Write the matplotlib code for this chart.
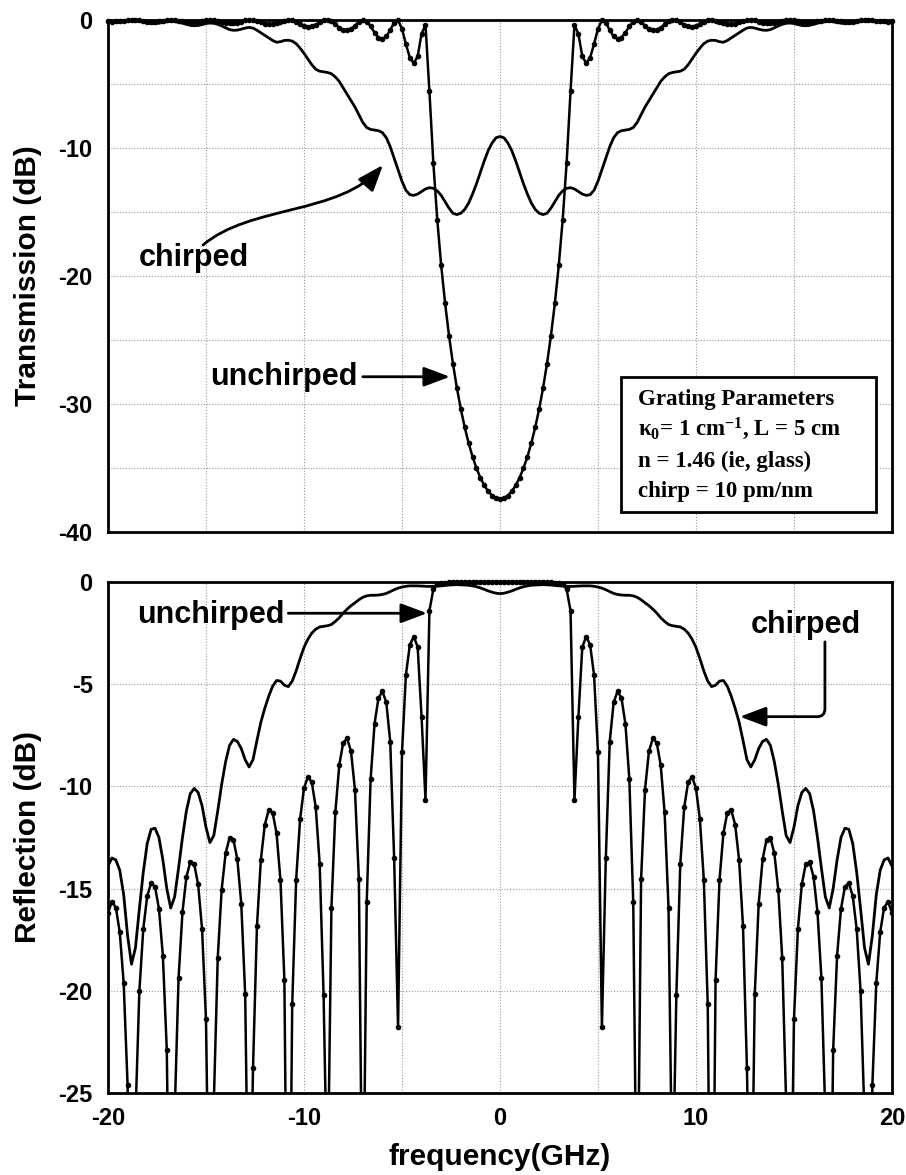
import numpy as np
import matplotlib
matplotlib.use("Agg")
import matplotlib.pyplot as plt
from matplotlib.path import Path
from matplotlib.patches import FancyArrowPatch, Rectangle

# ---------------------------------------------------------------------------
# Spectra sampled every 0.2 GHz.  Both gratings give spectra that are
# symmetric about the Bragg frequency, so only f = 0 ... 20 GHz is listed.
# ---------------------------------------------------------------------------
trans_unchirped_half = [
    -37.41, -37.34, -37.15, -36.82, -36.36, -35.76, -35.01, -34.11, -33.05, -31.81,
    -30.38, -28.73, -26.84, -24.66, -22.13, -19.16, -15.59, -11.17, -5.58, -0.39,
    -1.07, -2.85, -3.38, -2.94, -1.88, -0.69, -0.03, -0.20, -0.79, -1.29,
    -1.50, -1.37, -0.98, -0.50, -0.12, 0.00, -0.15, -0.44, -0.70, -0.82,
    -0.77, -0.59, -0.34, -0.11, 0.00, -0.04, -0.19, -0.36, -0.48, -0.51,
    -0.45, -0.31, -0.15, -0.04, 0.00, -0.05, -0.15, -0.26, -0.34, -0.35,
    -0.29, -0.19, -0.09, -0.02, 0.00, -0.04, -0.12, -0.20, -0.24, -0.25,
    -0.21, -0.14, -0.06, -0.01, 0.00, -0.03, -0.09, -0.15, -0.18, -0.19,
    -0.16, -0.11, -0.05, -0.01, 0.00, -0.02, -0.06, -0.11, -0.14, -0.15,
    -0.13, -0.09, -0.04, -0.01, 0.00, -0.01, -0.05, -0.08, -0.11, -0.12,
    -0.11,
]

trans_chirped_half = [
    -9.10, -9.20, -9.60, -10.20, -11.00, -11.90, -12.80, -13.60, -14.30, -14.80,
    -15.10, -15.20, -15.10, -14.70, -14.20, -13.70, -13.35, -13.15, -13.10, -13.20,
    -13.40, -13.60, -13.70, -13.65, -13.30, -12.60, -11.70, -10.80, -9.90, -9.20,
    -8.80, -8.65, -8.60, -8.55, -8.40, -8.00, -7.40, -6.80, -6.30, -5.80,
    -5.30, -4.80, -4.45, -4.20, -4.10, -4.05, -4.00, -3.85, -3.50, -3.05,
    -2.60, -2.20, -1.85, -1.65, -1.58, -1.60, -1.70, -1.74, -1.60, -1.40,
    -1.20, -1.00, -0.80, -0.63, -0.58, -0.63, -0.72, -0.79, -0.81, -0.75,
    -0.61, -0.47, -0.34, -0.26, -0.24, -0.28, -0.36, -0.43, -0.45, -0.42,
    -0.34, -0.25, -0.18, -0.13, -0.11, -0.14, -0.19, -0.25, -0.28, -0.27,
    -0.23, -0.17, -0.11, -0.07, -0.06, -0.08, -0.13, -0.17, -0.19, -0.20,
    -0.18,
]

refl_unchirped_half = [
    0.00, 0.00, 0.00, 0.00, 0.00, 0.00, 0.00, 0.00, 0.00, 0.00,
    0.00, 0.00, 0.00, -0.02, -0.03, -0.05, -0.12, -0.35, -1.41, -10.67,
    -6.62, -3.18, -2.67, -3.08, -4.55, -8.34, -21.78, -13.52, -7.81, -5.89,
    -5.35, -5.68, -6.94, -9.64, -15.68, -33.80, -14.55, -10.16, -8.29, -7.65,
    -7.87, -8.96, -11.27, -15.94, -30.50, -20.21, -13.78, -11.03, -9.80, -9.53,
    -10.09, -11.61, -14.56, -20.65, -40.40, -19.47, -14.59, -12.29, -11.28, -11.16,
    -11.88, -13.59, -16.84, -23.76, -34.40, -20.18, -15.74, -13.57, -12.61, -12.53,
    -13.28, -15.05, -18.38, -25.44, -35.00, -21.40, -16.99, -14.80, -13.81, -13.70,
    -14.43, -16.15, -19.38, -26.10, -38.00, -22.90, -18.29, -15.99, -14.91, -14.73,
    -15.37, -16.98, -20.03, -26.20, -44.80, -24.63, -19.62, -17.13, -15.93, -15.64,
    -16.18,
]

refl_chirped_half = [
    -0.57, -0.55, -0.50, -0.44, -0.36, -0.29, -0.23, -0.19, -0.16, -0.15,
    -0.14, -0.13, -0.14, -0.15, -0.17, -0.19, -0.20, -0.21, -0.22, -0.21,
    -0.20, -0.19, -0.19, -0.19, -0.21, -0.25, -0.30, -0.38, -0.47, -0.56,
    -0.61, -0.64, -0.65, -0.65, -0.68, -0.75, -0.87, -1.02, -1.16, -1.33,
    -1.52, -1.75, -1.93, -2.08, -2.14, -2.17, -2.20, -2.31, -2.50, -2.80,
    -3.20, -3.75, -4.35, -4.85, -5.12, -5.05, -4.85, -4.82, -5.10, -5.59,
    -6.18, -6.86, -7.75, -8.69, -9.05, -8.70, -8.15, -7.80, -7.70, -8.00,
    -8.80, -9.90, -11.20, -12.40, -12.75, -12.00, -10.95, -10.30, -10.10, -10.35,
    -11.20, -12.50, -14.00, -15.40, -15.95, -15.00, -13.60, -12.50, -12.05, -12.10,
    -12.80, -14.20, -16.00, -17.90, -18.70, -17.30, -15.30, -14.10, -13.60, -13.50,
    -13.90,
]

x_ticks = [-20, -10, 0, 10, 20]
trans_ticks = [0, -10, -20, -30, -40]
refl_ticks = [0, -5, -10, -15, -20, -25]

params_lines = [
    "Grating Parameters",
    r"$\kappa_0$= 1 cm$^{-1}$, L = 5 cm",
    "n = 1.46 (ie, glass)",
    "chirp = 10 pm/nm",
]


def full_spectrum(half):
    half = np.asarray(half, dtype=float)
    return np.concatenate([half[:0:-1], half])


freq = np.round(np.linspace(-20.0, 20.0, 201), 1)
t_un = full_spectrum(trans_unchirped_half)
t_ch = full_spectrum(trans_chirped_half)
r_un = full_spectrum(refl_unchirped_half)
r_ch = full_spectrum(refl_chirped_half)

# ---------------------------------------------------------------------------
plt.rcParams["font.family"] = ["Liberation Sans", "DejaVu Sans"]
plt.rcParams["font.weight"] = "bold"
plt.rcParams["axes.unicode_minus"] = False
plt.rcParams["mathtext.fontset"] = "custom"
plt.rcParams["mathtext.rm"] = "Liberation Serif:bold"
plt.rcParams["mathtext.it"] = "Liberation Serif:bold"
plt.rcParams["mathtext.bf"] = "Liberation Serif:bold"

fig = plt.figure(figsize=(9.06, 11.75), dpi=100)
ax_t = fig.add_axes([0.1192, 0.5472, 0.8653, 0.4358])
ax_r = fig.add_axes([0.1192, 0.0698, 0.8653, 0.4349])

TICK_FS = 17
LABEL_FS = 21.5
NOTE_FS = 22

for ax in (ax_t, ax_r):
    ax.set_xlim(-20, 20)
    ax.set_xticks(x_ticks)
    ax.set_xticks([-15, -5, 5, 15], minor=True)
    ax.set_axisbelow(True)
    ax.grid(True, which="both", linestyle=(0, (1, 1.6)), color="0.6", lw=0.8)
    ax.tick_params(which="both", length=0, labelsize=TICK_FS)
    ax.tick_params(axis="y", pad=11)
    ax.tick_params(axis="x", pad=10)
    for sp in ax.spines.values():
        sp.set_linewidth(2.0)
        sp.set_zorder(6)

# ---------------- transmission ----------------
ax_t.set_ylim(-40, 0)
ax_t.set_yticks(trans_ticks)
ax_t.set_yticks([-5, -15, -25, -35], minor=True)
ax_t.tick_params(axis="x", labelbottom=False)

ax_t.plot(freq, t_ch, color="black", lw=2.0, clip_on=False, zorder=3)
ax_t.plot(freq, t_un, color="black", lw=1.8, marker="o", ms=3.0,
          clip_on=False, zorder=4)

ax_t.text(-15.6, -18.6, "chirped", fontsize=NOTE_FS, fontweight="bold",
          ha="center", va="center")
curve = Path([(-15.15, -17.58), (-12.76, -14.45), (-8.16, -15.23), (-5.97, -11.33)],
             [Path.MOVETO, Path.CURVE4, Path.CURVE4, Path.CURVE4])
ax_t.add_patch(FancyArrowPatch(path=curve,
                               arrowstyle="-|>,head_length=0.8,head_width=0.3",
                               mutation_scale=20, lw=2.0, color="black", zorder=5))

ax_t.text(-11.05, -27.9, "unchirped", fontsize=NOTE_FS, fontweight="bold",
          ha="center", va="center")
ax_t.annotate("", xy=(-2.55, -27.87), xytext=(-7.0, -27.87),
              arrowprops=dict(arrowstyle="-|>,head_length=0.8,head_width=0.3",
                              mutation_scale=20, lw=2.0, color="black",
                              shrinkA=0, shrinkB=0))

# parameter box
ax_t.add_patch(Rectangle((6.17, -38.4), 13.01, 10.5, facecolor="white",
                         edgecolor="black", lw=2.0, zorder=5))
for txt, y in zip(params_lines, [-30.08, -32.42, -34.9, -37.24]):
    ax_t.text(7.02, y, txt, fontsize=16.5, fontweight="bold",
              family="Liberation Serif", ha="left", va="baseline", zorder=6)

# ---------------- reflection ----------------
ax_r.set_ylim(-25, 0)
ax_r.set_yticks(refl_ticks)

clip = Rectangle((0, 0), 1, 1.01, transform=ax_r.transAxes, visible=False)
ax_r.add_patch(clip)
ln1, = ax_r.plot(freq, r_ch, color="black", lw=2.0, zorder=3)
ln2, = ax_r.plot(freq, r_un, color="black", lw=1.8, marker="o", ms=3.0, zorder=4)
ln1.set_clip_path(clip)
ln2.set_clip_path(clip)

ax_r.text(-14.74, -1.6, "unchirped", fontsize=NOTE_FS, fontweight="bold",
          ha="center", va="center")
ax_r.annotate("", xy=(-3.72, -1.53), xytext=(-10.8, -1.53),
              arrowprops=dict(arrowstyle="-|>,head_length=0.8,head_width=0.3",
                              mutation_scale=20, lw=2.0, color="black",
                              shrinkA=0, shrinkB=0))

ax_r.text(15.6, -2.1, "chirped", fontsize=NOTE_FS, fontweight="bold",
          ha="center", va="center")
elbow = Path([(16.58, -2.93), (16.58, -6.2), (16.58, -6.59), (16.18, -6.59),
              (12.24, -6.59)],
             [Path.MOVETO, Path.LINETO, Path.CURVE3, Path.CURVE3, Path.LINETO])
ax_r.add_patch(FancyArrowPatch(path=elbow,
                               arrowstyle="-|>,head_length=0.8,head_width=0.3",
                               mutation_scale=20, lw=2.0, color="black", zorder=5))

# axis titles
fig.text(28 / 906, 1 - 276 / 1175, "Transmission (dB)", rotation=90,
         fontsize=LABEL_FS, fontweight="bold", ha="center", va="center")
fig.text(28 / 906, 1 - 837 / 1175, "Reflection (dB)", rotation=90,
         fontsize=LABEL_FS, fontweight="bold", ha="center", va="center")
fig.text(500 / 906, 1 - 1157 / 1175, "frequency(GHz)",
         fontsize=LABEL_FS, fontweight="bold", ha="center", va="center")

fig.savefig("out.png", dpi=100)
